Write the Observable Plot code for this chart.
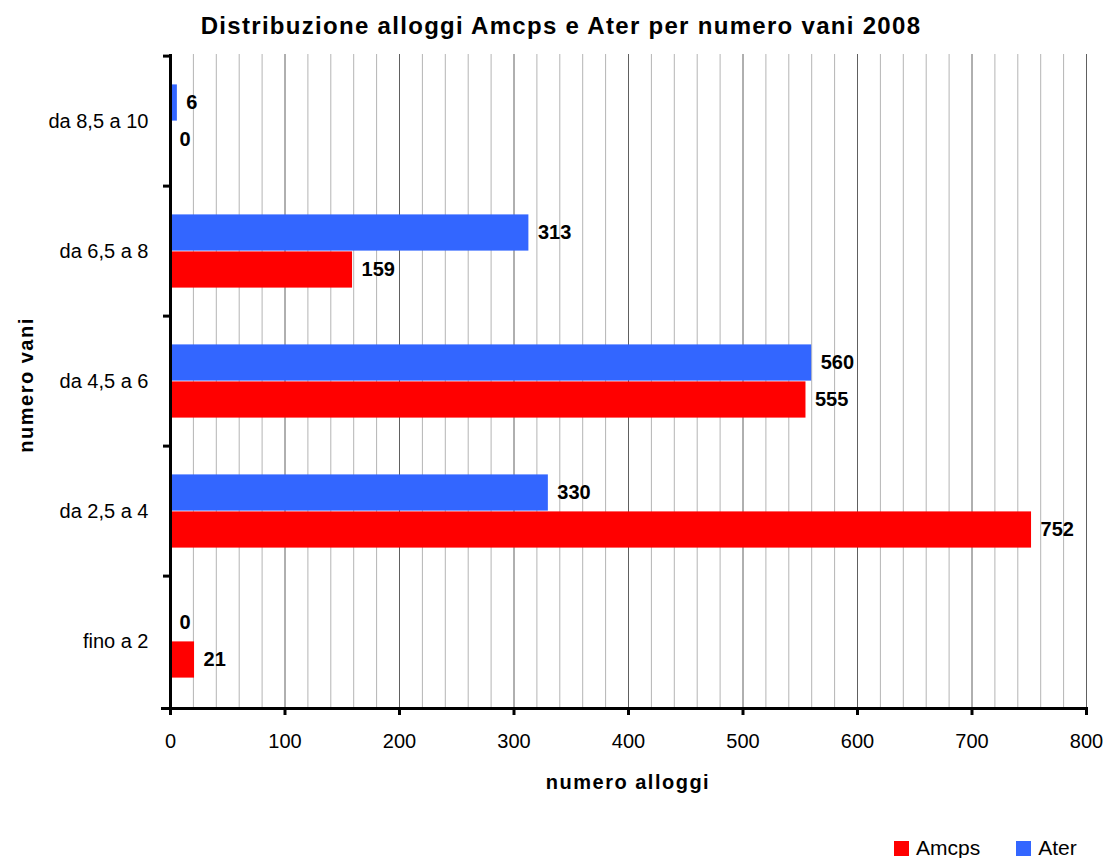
<!DOCTYPE html>
<html>
<head>
<meta charset="utf-8">
<script src="https://cdn.jsdelivr.net/npm/d3@7"></script>
<script src="https://cdn.jsdelivr.net/npm/@observablehq/plot@0.6"></script>
<style>
  html, body { margin: 0; padding: 0; background: #fff; }
  body { font-family: "Liberation Sans", Arial, sans-serif; }
  #wrap { position: relative; width: 1106px; height: 858px; overflow: hidden; }
  #chart { position: absolute; left: 0; top: 0; }
  #title { position: absolute; left: 0; top: 12px; width: 1122px; text-align: center; font-weight: bold; font-size: 24px; letter-spacing: 1.3px; color: #000; }
  #xlabel { position: absolute; left: 170px; width: 916px; top: 771px; text-align: center; font-weight: bold; font-size: 20px; letter-spacing: 1.5px; }
  #ylabel { position: absolute; left: 26px; top: 385px; transform: translate(-50%, -50%) rotate(-90deg); white-space: nowrap; font-weight: bold; font-size: 20px; letter-spacing: 1.5px; }
  #legend { position: absolute; left: 894px; top: 836px; font-size: 21px; display: flex; align-items: center; }
  .sw { display: inline-block; width: 15px; height: 15px; margin-right: 7px; }
  .item { display: flex; align-items: center; margin-right: 36px; }
</style>
</head>
<body>
<div id="wrap">
  <div id="chart"></div>
  <div id="title">Distribuzione alloggi Amcps e Ater per numero vani 2008</div>
  <div id="xlabel">numero alloggi</div>
  <div id="ylabel">numero vani</div>
  <div id="legend"></div>
</div>
<script>
// Data
const categories = ["fino a 2", "da 2,5 a 4", "da 4,5 a 6", "da 6,5 a 8", "da 8,5 a 10"];
const amcps = [21, 752, 555, 159, 0];
const ater = [0, 330, 560, 313, 6];
const seriesNames = ["Amcps", "Ater"];
const seriesColors = ["#FF0000", "#3366FF"];
const xTicks = [0, 100, 200, 300, 400, 500, 600, 700, 800];

const rows = categories.map((c, i) => ({cat: c, amcps: amcps[i], ater: ater[i]}));

const W = 1106, H = 800, mT = 54, mB = 92, mL = 170, mR = 20;
const band = (H - mT - mB) / categories.length;
const barH = 37;
const pad = (band - 2 * barH) / 2;

const minorGrid = d3.range(0, 801, 20).filter(v => v % 100 !== 0);
const majorGrid = xTicks.filter(v => v > 0);

const chart = Plot.plot({
  width: W, height: H,
  marginTop: mT, marginBottom: mB, marginLeft: mL, marginRight: mR,
  style: {fontFamily: "'Liberation Sans', Arial, sans-serif", fontSize: "20px", color: "#000", background: "#fff"},
  x: {domain: [0, 800], label: null},
  y: {domain: categories.slice().reverse(), padding: 0, label: null},
  marks: [
    Plot.gridX(minorGrid, {stroke: "#b4b4b4", strokeOpacity: 1, strokeWidth: 1}),
    Plot.gridX(majorGrid, {stroke: "#606060", strokeOpacity: 1, strokeWidth: 1}),
    Plot.barX(rows, {x: "ater", y: "cat", fill: seriesColors[1], insetTop: pad, insetBottom: band - pad - barH}),
    Plot.barX(rows, {x: "amcps", y: "cat", fill: seriesColors[0], insetTop: pad + barH, insetBottom: pad}),
    Plot.text(rows, {x: "ater", y: "cat", text: d => String(d.ater), dy: -barH / 2, dx: 9, textAnchor: "start", fontWeight: "bold", fontSize: 20}),
    Plot.text(rows, {x: "amcps", y: "cat", text: d => String(d.amcps), dy: barH / 2, dx: 9, textAnchor: "start", fontWeight: "bold", fontSize: 20}),
    Plot.ruleX([0], {stroke: "#000", strokeWidth: 3}),
    Plot.frame({anchor: "bottom", stroke: "#000", strokeWidth: 3, insetLeft: -8}),
    Plot.axisX(xTicks, {tickSize: 7, tickPadding: 18, strokeWidth: 3, fontSize: 20, tickFormat: d => String(d)}),
    Plot.axisY({tickSize: 0, tickPadding: 22, fontSize: 20}),
    Plot.axisY({tickSize: 7, strokeWidth: 3, tickFormat: () => "", dy: -band / 2})
  ]
});
document.getElementById("chart").appendChild(chart);

const legend = document.getElementById("legend");
seriesNames.forEach((name, i) => {
  const item = document.createElement("div");
  item.className = "item";
  const sw = document.createElement("span");
  sw.className = "sw";
  sw.style.background = seriesColors[i];
  item.appendChild(sw);
  item.appendChild(document.createTextNode(name));
  legend.appendChild(item);
});
</script>
</body>
</html>
